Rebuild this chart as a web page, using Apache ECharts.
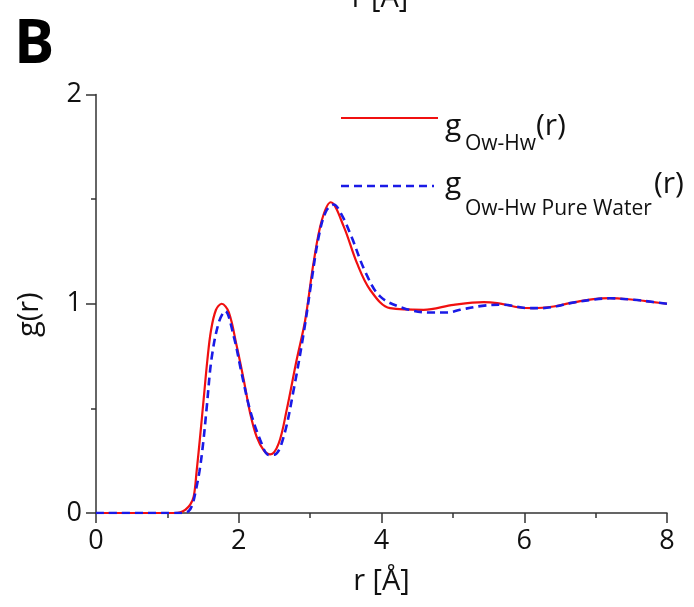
<!DOCTYPE html>
<html>
<head>
<meta charset="utf-8">
<script src="https://cdn.jsdelivr.net/npm/echarts@6/dist/echarts.min.js"></script>
<style>
html,body{margin:0;padding:0;background:#fff;}
#chart{width:694px;height:607px;}
</style>
</head>
<body>
<div id="chart"></div>
<script>
// r [Å] and g(r) values
var owHw = [
  [0,0],[1.1,0],[1.18,0.003],[1.25,0.015],[1.32,0.04],[1.37,0.08],[1.41,0.2],[1.46,0.37],
  [1.51,0.55],[1.56,0.73],[1.61,0.87],[1.68,0.97],[1.76,1.0],[1.86,0.96],[1.97,0.8],
  [2.07,0.636],[2.16,0.477],[2.25,0.365],[2.35,0.3],[2.44,0.28],[2.56,0.333],[2.67,0.49],
  [2.81,0.73],[2.93,0.92],[3.05,1.2],[3.165,1.4],[3.29,1.485],[3.47,1.37],[3.655,1.195],
  [3.84,1.067],[4.12,0.979],[4.59,0.971],[5.01,0.995],[5.43,1.008],[5.62,1.003],[5.94,0.982],
  [6.13,0.979],[6.41,0.987],[6.64,1.003],[6.97,1.022],[7.2,1.027],[7.53,1.019],[7.81,1.008],[8,1.0]
];
var owHwPure = [
  [0,0],[1.2,0],[1.3,0.01],[1.35,0.04],[1.39,0.094],[1.45,0.2],[1.5,0.33],[1.55,0.5],
  [1.62,0.74],[1.72,0.91],[1.81,0.965],[1.93,0.844],[2.04,0.668],[2.16,0.49],[2.3,0.35],
  [2.42,0.278],[2.51,0.28],[2.63,0.365],[2.77,0.59],[2.91,0.86],[3.02,1.11],[3.12,1.32],
  [3.22,1.44],[3.33,1.474],[3.45,1.42],[3.58,1.32],[3.77,1.155],[3.98,1.035],[4.31,0.979],
  [4.68,0.958],[4.92,0.958],[5.1,0.971],[5.41,0.99],[5.71,0.995],[6.05,0.979],[6.24,0.979],
  [6.45,0.988],[6.64,1.003],[6.97,1.02],[7.2,1.026],[7.53,1.019],[7.81,1.008],[8,1.0]
];
var xTicks = [0, 2, 4, 6, 8];
var yTicks = [0, 1, 2];

var FONT = '"Open Sans", sans-serif';
var chart = echarts.init(document.getElementById('chart'), null, {renderer: 'canvas'});
var axisCommon = {
  type: 'value',
  axisLine: {show: true, lineStyle: {color: '#333', width: 1.5}},
  axisTick: {show: true, inside: false, length: 10, lineStyle: {color: '#333', width: 1.5}},
  minorTick: {show: true, splitNumber: 2, length: 5, lineStyle: {color: '#333', width: 1.5}},
  splitLine: {show: false},
  minorSplitLine: {show: false},
  nameLocation: 'middle',
  nameTextStyle: {fontFamily: FONT, fontSize: 29, color: '#111'}
};
chart.setOption({
  animation: false,
  backgroundColor: '#fff',
  grid: {left: 96, right: 27, top: 94.5, bottom: 94, containLabel: false},
  xAxis: Object.assign({}, axisCommon, {
    min: xTicks[0], max: xTicks[xTicks.length - 1], interval: 2,
    name: 'r [Å]', nameGap: 54,
    axisLabel: {fontFamily: FONT, fontSize: 27, color: '#111', margin: 15}
  }),
  yAxis: Object.assign({}, axisCommon, {
    min: yTicks[0], max: yTicks[yTicks.length - 1], interval: 1,
    name: 'g(r)', nameGap: 52, nameRotate: 90,
    nameTextStyle: {fontFamily: FONT, fontSize: 29, color: '#111', padding: [0, 22, 0, 0]},
    axisLabel: {fontFamily: FONT, fontSize: 27, color: '#111', margin: 14}
  }),
  series: [
    {
      type: 'line', name: 'owHw', data: owHw, smooth: 0.35, showSymbol: false,
      lineStyle: {color: '#f01010', width: 2.2}, z: 3
    },
    {
      type: 'line', name: 'owHwPure', data: owHwPure, smooth: 0.35, showSymbol: false,
      lineStyle: {color: '#1a1ae6', width: 2.6, type: [8, 5]}, z: 4
    }
  ],
  graphic: [
    {type: 'text', left: 14, top: 16, style: {text: 'B', fontFamily: FONT, fontWeight: 'bold', fontSize: 60, fill: '#000'}},
    {type: 'text', x: 380, y: -1, style: {text: 'r [Å]', fontFamily: FONT, fontSize: 29, fill: '#111', align: 'center', verticalAlign: 'middle'}},
    {type: 'line', shape: {x1: 341, y1: 118, x2: 438, y2: 118}, style: {stroke: '#f01010', lineWidth: 2.2}},
    {type: 'line', shape: {x1: 341, y1: 186, x2: 434, y2: 186}, style: {stroke: '#1a1ae6', lineWidth: 2.6, lineDash: [8, 5]}},
    {type: 'text', x: 445, y: 126, style: {text: 'g', fontFamily: FONT, fontSize: 30, fill: '#111', verticalAlign: 'middle'}},
    {type: 'text', x: 465, y: 144, style: {text: 'Ow-Hw', fontFamily: FONT, fontSize: 21, fill: '#111', verticalAlign: 'middle'}},
    {type: 'text', x: 536, y: 126, style: {text: '(r)', fontFamily: FONT, fontSize: 30, fill: '#111', verticalAlign: 'middle'}},
    {type: 'text', x: 445, y: 184, style: {text: 'g', fontFamily: FONT, fontSize: 30, fill: '#111', verticalAlign: 'middle'}},
    {type: 'text', x: 465, y: 209, style: {text: 'Ow-Hw Pure Water', fontFamily: FONT, fontSize: 21, fill: '#111', verticalAlign: 'middle'}},
    {type: 'text', x: 654, y: 184, style: {text: '(r)', fontFamily: FONT, fontSize: 30, fill: '#111', verticalAlign: 'middle'}}
  ]
});
</script>
</body>
</html>
